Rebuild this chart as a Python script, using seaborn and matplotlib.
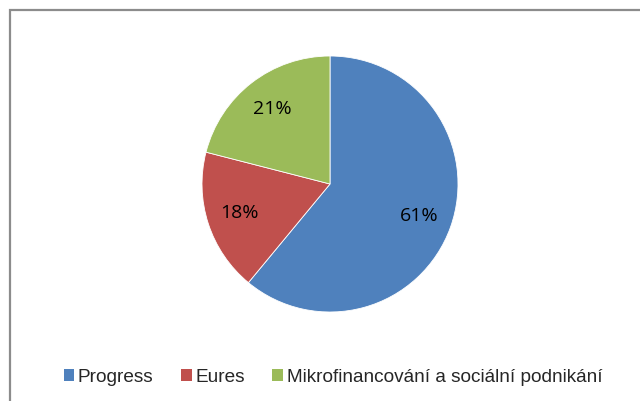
import matplotlib
matplotlib.use("Agg")
import matplotlib.pyplot as plt
import matplotlib.patches as mpatches
import seaborn as sns

labels = ["Progress", "Eures", "Mikrofinancování a sociální podnikání"]
shares = [61, 18, 21]
colors = ["#4F81BD", "#C0504D", "#9BBB59"]

sns.set_theme(style="white")
plt.rcParams['font.family'] = ['Liberation Sans', 'DejaVu Sans']

fig = plt.figure(figsize=(6.4, 4.01), dpi=100)
fig.patch.set_facecolor("white")

# pie area: centre ~ (330,184) px, radius ~128 px
ax = fig.add_axes([202 / 640, (401 - 312) / 401, 256 / 640, 256 / 401])
wedges, texts, autotexts = ax.pie(
    shares, colors=colors, startangle=90, counterclock=False,
    autopct="%d%%", pctdistance=0.74,
    wedgeprops=dict(linewidth=0.6, edgecolor="white"),
    textprops=dict(family=["Open Sans", "DejaVu Sans"], fontsize=14, color="black"),
)
ax.set_xlim(-1, 1)
ax.set_ylim(-1, 1)
ax.axis("off")

# outer chart frame (cut by the image edges on right and bottom)
frame = mpatches.Rectangle((10 / 640, -0.1), 1.0, (401 - 10) / 401 + 0.1,
                           transform=fig.transFigure, fill=False,
                           edgecolor="#8c8c8c", linewidth=1.6)
fig.patches.append(frame)

handles = [mpatches.Patch(facecolor=c, edgecolor="none") for c in colors]
fig.legend(handles, labels, loc="center", ncol=3,
           bbox_to_anchor=(333 / 640, 1 - 377 / 401), frameon=False,
           fontsize=13.7, handlelength=0.55, handleheight=0.55,
           handletextpad=0.2, columnspacing=1.45)

fig.savefig("out.png", dpi=100, facecolor="white")
